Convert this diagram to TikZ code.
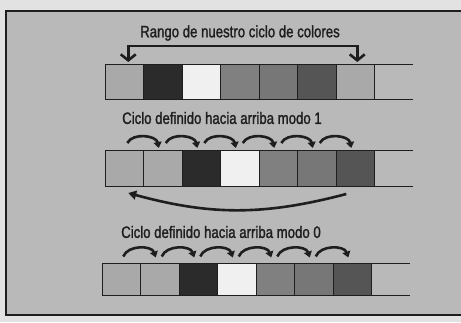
\documentclass[tikz,border=0pt]{standalone}
\usepackage{fontspec}
\setmainfont{Liberation Sans}[FakeStretch=0.8,FakeBold=1.4]
\usetikzlibrary{arrows.meta,positioning,calc}
\definecolor{cOut}{HTML}{E2E2E2}
\definecolor{cBg} {HTML}{B9B9B9}
\definecolor{cLt} {HTML}{A9A9A9}
\definecolor{cBk} {HTML}{2B2B2B}
\definecolor{cWh} {HTML}{F0F0F0}
\definecolor{cMd} {HTML}{808080}
\definecolor{cMdd}{HTML}{777777}
\definecolor{cDk} {HTML}{555555}
\definecolor{cInk}{HTML}{1E1E1E}
\tikzset{
  >=Stealth,
  cell/.style  ={draw=cInk,line width=1pt,minimum width=38.5pt,
                 minimum height=35pt,inner sep=0pt,outer sep=0pt},
  lbl/.style   ={font=\fontsize{16.5}{19}\selectfont,text=cInk,inner sep=0pt},
  frame/.style ={draw=cInk,line width=2.4pt,fill=cBg},
  brk/.style   ={{Straight Barb[length=6pt,width=15pt]}-{Straight Barb[length=6pt,width=15pt]},
                 line width=2.6pt,cInk},
  arc/.style   ={-{Triangle[length=6pt,width=8pt]},line width=2.6pt,cInk},
  ret/.style   ={-{Triangle[length=8pt,width=9pt]},line width=2.6pt,cInk},
  edge/.style  ={line width=1pt,cInk},
}
\begin{document}
\begin{tikzpicture}[x=1pt,y=1pt]
\useasboundingbox[fill=cOut] (0,0) rectangle (461,322);
\draw[frame] (6,7) rectangle (470,311);

% range of the colour cycle
\node[lbl] (title) at (240,289) {Rango de nuestro ciclo de colores};
\node[cell,fill=cLt] (a1) at (124.25,239.5) {};
\foreach \c [count=\i from 2] in {cBk,cWh,cMd,cMdd,cDk,cLt} {
  \pgfmathtruncatemacro\j{\i-1}
  \node[cell,fill=\c,right=0pt of a\j] (a\i) {};
}
\node[cell,draw=none,right=0pt of a7] (a8) {};
\draw[edge] (a8.north west) -- (a8.north east);
\draw[edge] (a8.south west) -- (a8.south east);
\draw[brk] ([xshift=4pt,yshift=3pt]a1.north) -- ++(0,16)
           -| ([xshift=2pt,yshift=3pt]a7.north);

% mode 1
\node[lbl] (mode1) at (222,204) {Ciclo definido hacia arriba modo 1};
\node[cell,minimum height=36pt,fill=cLt] (b1) at (124.25,154) {};
\foreach \c [count=\i from 2] in {cLt,cBk,cWh,cMd,cMdd,cDk} {
  \pgfmathtruncatemacro\j{\i-1}
  \node[cell,minimum height=36pt,fill=\c,right=0pt of b\j] (b\i) {};
}
\node[cell,minimum height=36pt,draw=none,right=0pt of b7] (b8) {};
\draw[edge] (b8.north west) -- (b8.north east);
\draw[edge] (b8.south west) -- (b8.south east);
\foreach \i in {1,...,6} {
  \pgfmathtruncatemacro\j{\i+1}
  \draw[arc] ([xshift=3pt,yshift=7pt]b\i.north) to[bend left=70]
             ([xshift=-4pt,yshift=2pt]b\j.north);
}
\draw[ret] ([xshift=-9pt,yshift=-8pt]b7.south) to[bend left=15]
           ([xshift=4pt,yshift=-7pt]b1.south);

% mode 0
\node[lbl] (mode0) at (221,90) {Ciclo definido hacia arriba modo 0};
\node[cell,minimum height=32pt,fill=cLt] (c1) at (121.25,42.5) {};
\foreach \c [count=\i from 2] in {cLt,cBk,cWh,cMd,cMdd,cDk} {
  \pgfmathtruncatemacro\j{\i-1}
  \node[cell,minimum height=32pt,fill=\c,right=0pt of c\j] (c\i) {};
}
\node[cell,minimum height=32pt,draw=none,right=0pt of c7] (c8) {};
\draw[edge] (c8.north west) -- (c8.north east);
\draw[edge] (c8.south west) -- (c8.south east);
\foreach \i in {1,...,6} {
  \pgfmathtruncatemacro\j{\i+1}
  \draw[arc] ([xshift=2pt,yshift=7pt]c\i.north) to[bend left=70]
             ([xshift=-4pt,yshift=6pt]c\j.north);
}
\end{tikzpicture}
\end{document}
